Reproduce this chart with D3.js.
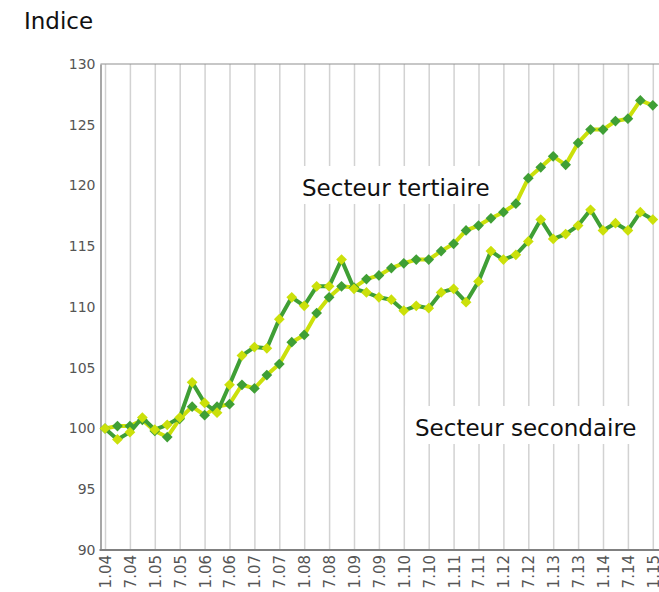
<!DOCTYPE html>
<html><head><meta charset="utf-8">
<script src="https://cdn.jsdelivr.net/npm/d3@7"></script>
<style>
body{margin:0;background:#fff;}
svg{display:block;font-family:"DejaVu Sans",sans-serif;}
</style></head>
<body>
<svg id="c" width="659" height="592"></svg>
<script>
const periodLabels = ["1.04","7.04","1.05","7.05","1.06","7.06","1.07","7.07","1.08","7.08","1.09","7.09","1.10","7.10","1.11","7.11","1.12","7.12","1.13","7.13","1.14","7.14","1.15"];
const tertiaire = [100.0,100.2,100.2,100.7,99.8,99.3,100.8,101.8,101.1,101.8,102.0,103.6,103.3,104.4,105.3,107.1,107.7,109.5,110.8,111.7,111.6,112.3,112.6,113.2,113.6,113.9,113.9,114.6,115.2,116.3,116.7,117.3,117.8,118.5,120.6,121.5,122.4,121.7,123.5,124.6,124.6,125.3,125.5,127.0,126.6];
const secondaire = [100.0,99.1,99.7,100.9,99.9,100.3,100.9,103.8,102.1,101.3,103.6,106.0,106.7,106.6,109.0,110.8,110.1,111.7,111.7,113.9,111.5,111.2,110.8,110.6,109.7,110.1,109.9,111.2,111.5,110.4,112.1,114.6,113.9,114.3,115.4,117.2,115.6,116.0,116.7,118.0,116.3,116.9,116.3,117.8,117.2];
const yTicks = [90,95,100,105,110,115,120,125,130];

const dark = "#3f9f35", light = "#cbe00a";
const svg = d3.select("#c");
const x = d3.scaleLinear().domain([0, tertiaire.length-1]).range([105, 652.8]);
const y = d3.scaleLinear().domain([90,130]).range([550,64]);
const left = 100.5, right = 659;

// vertical gridlines + labels
const xAxis = d3.axisBottom(x)
  .tickValues(d3.range(0, tertiaire.length, 2))
  .tickFormat(i => periodLabels[i/2])
  .tickSize(0).tickPadding(0);
const gx = svg.append("g").attr("transform","translate(0,550)").call(xAxis);
gx.select(".domain").remove();
gx.selectAll(".tick line").attr("y1", 0).attr("y2", -486).attr("stroke","#d2d2d2").attr("stroke-width",1.5);
gx.selectAll(".tick text")
  .attr("transform","rotate(-90)")
  .attr("x",-5).attr("y",0).attr("dy","0.36em")
  .attr("text-anchor","end")
  .attr("font-family","DejaVu Sans")
  .attr("fill","#555").attr("font-size",15);

// top border
svg.append("line").attr("x1",left).attr("x2",right).attr("y1",64).attr("y2",64).attr("stroke","#909090").attr("stroke-width",1.2);

// y axis
const yAxis = d3.axisLeft(y).tickValues(yTicks).tickSize(0).tickPadding(5);
const gy = svg.append("g").attr("transform",`translate(${left},0)`).call(yAxis);
gy.select(".domain").attr("stroke","#8a8a8a").attr("stroke-width",1.5);
gy.selectAll(".tick text").attr("fill","#555").attr("font-size",14).attr("font-family","DejaVu Sans");

// bottom axis line
svg.append("line").attr("x1",left-1).attr("x2",right).attr("y1",550).attr("y2",550).attr("stroke","#808080").attr("stroke-width",2);

// annotation boxes
function label(txt, tx, ty, bx, by, bw, bh){
  svg.append("rect").attr("x",bx).attr("y",by).attr("width",bw).attr("height",bh).attr("fill","#fff");
  svg.append("text").attr("x",tx).attr("y",ty).attr("font-size",23).attr("fill","#111").text(txt);
}
label("Secteur tertiaire", 302, 196, 296, 166, 200, 38);

const line = d3.line().x((d,i)=>x(i)).y(d=>y(d));
const diamond = (sel, data, fill) => sel.selectAll(null).data(data).enter().append("rect")
  .attr("x",-3.8).attr("y",-3.8).attr("width",7.6).attr("height",7.6)
  .attr("transform",(d,i)=>`translate(${x(i)},${y(d)}) rotate(45)`)
  .attr("fill",fill);

// tertiaire: light line, dark markers
svg.append("path").datum(tertiaire).attr("d",line).attr("fill","none").attr("stroke",light).attr("stroke-width",4).attr("stroke-linejoin","round");
diamond(svg.append("g"), tertiaire, dark);
// secondaire: dark line, light markers
svg.append("path").datum(secondaire).attr("d",line).attr("fill","none").attr("stroke",dark).attr("stroke-width",4).attr("stroke-linejoin","round");
diamond(svg.append("g"), secondaire, light);

label("Secteur secondaire", 415, 436, 405, 406, 240, 38);

svg.append("text").attr("x",24).attr("y",29).attr("font-size",23).attr("fill","#111").text("Indice");
</script>
</body></html>
